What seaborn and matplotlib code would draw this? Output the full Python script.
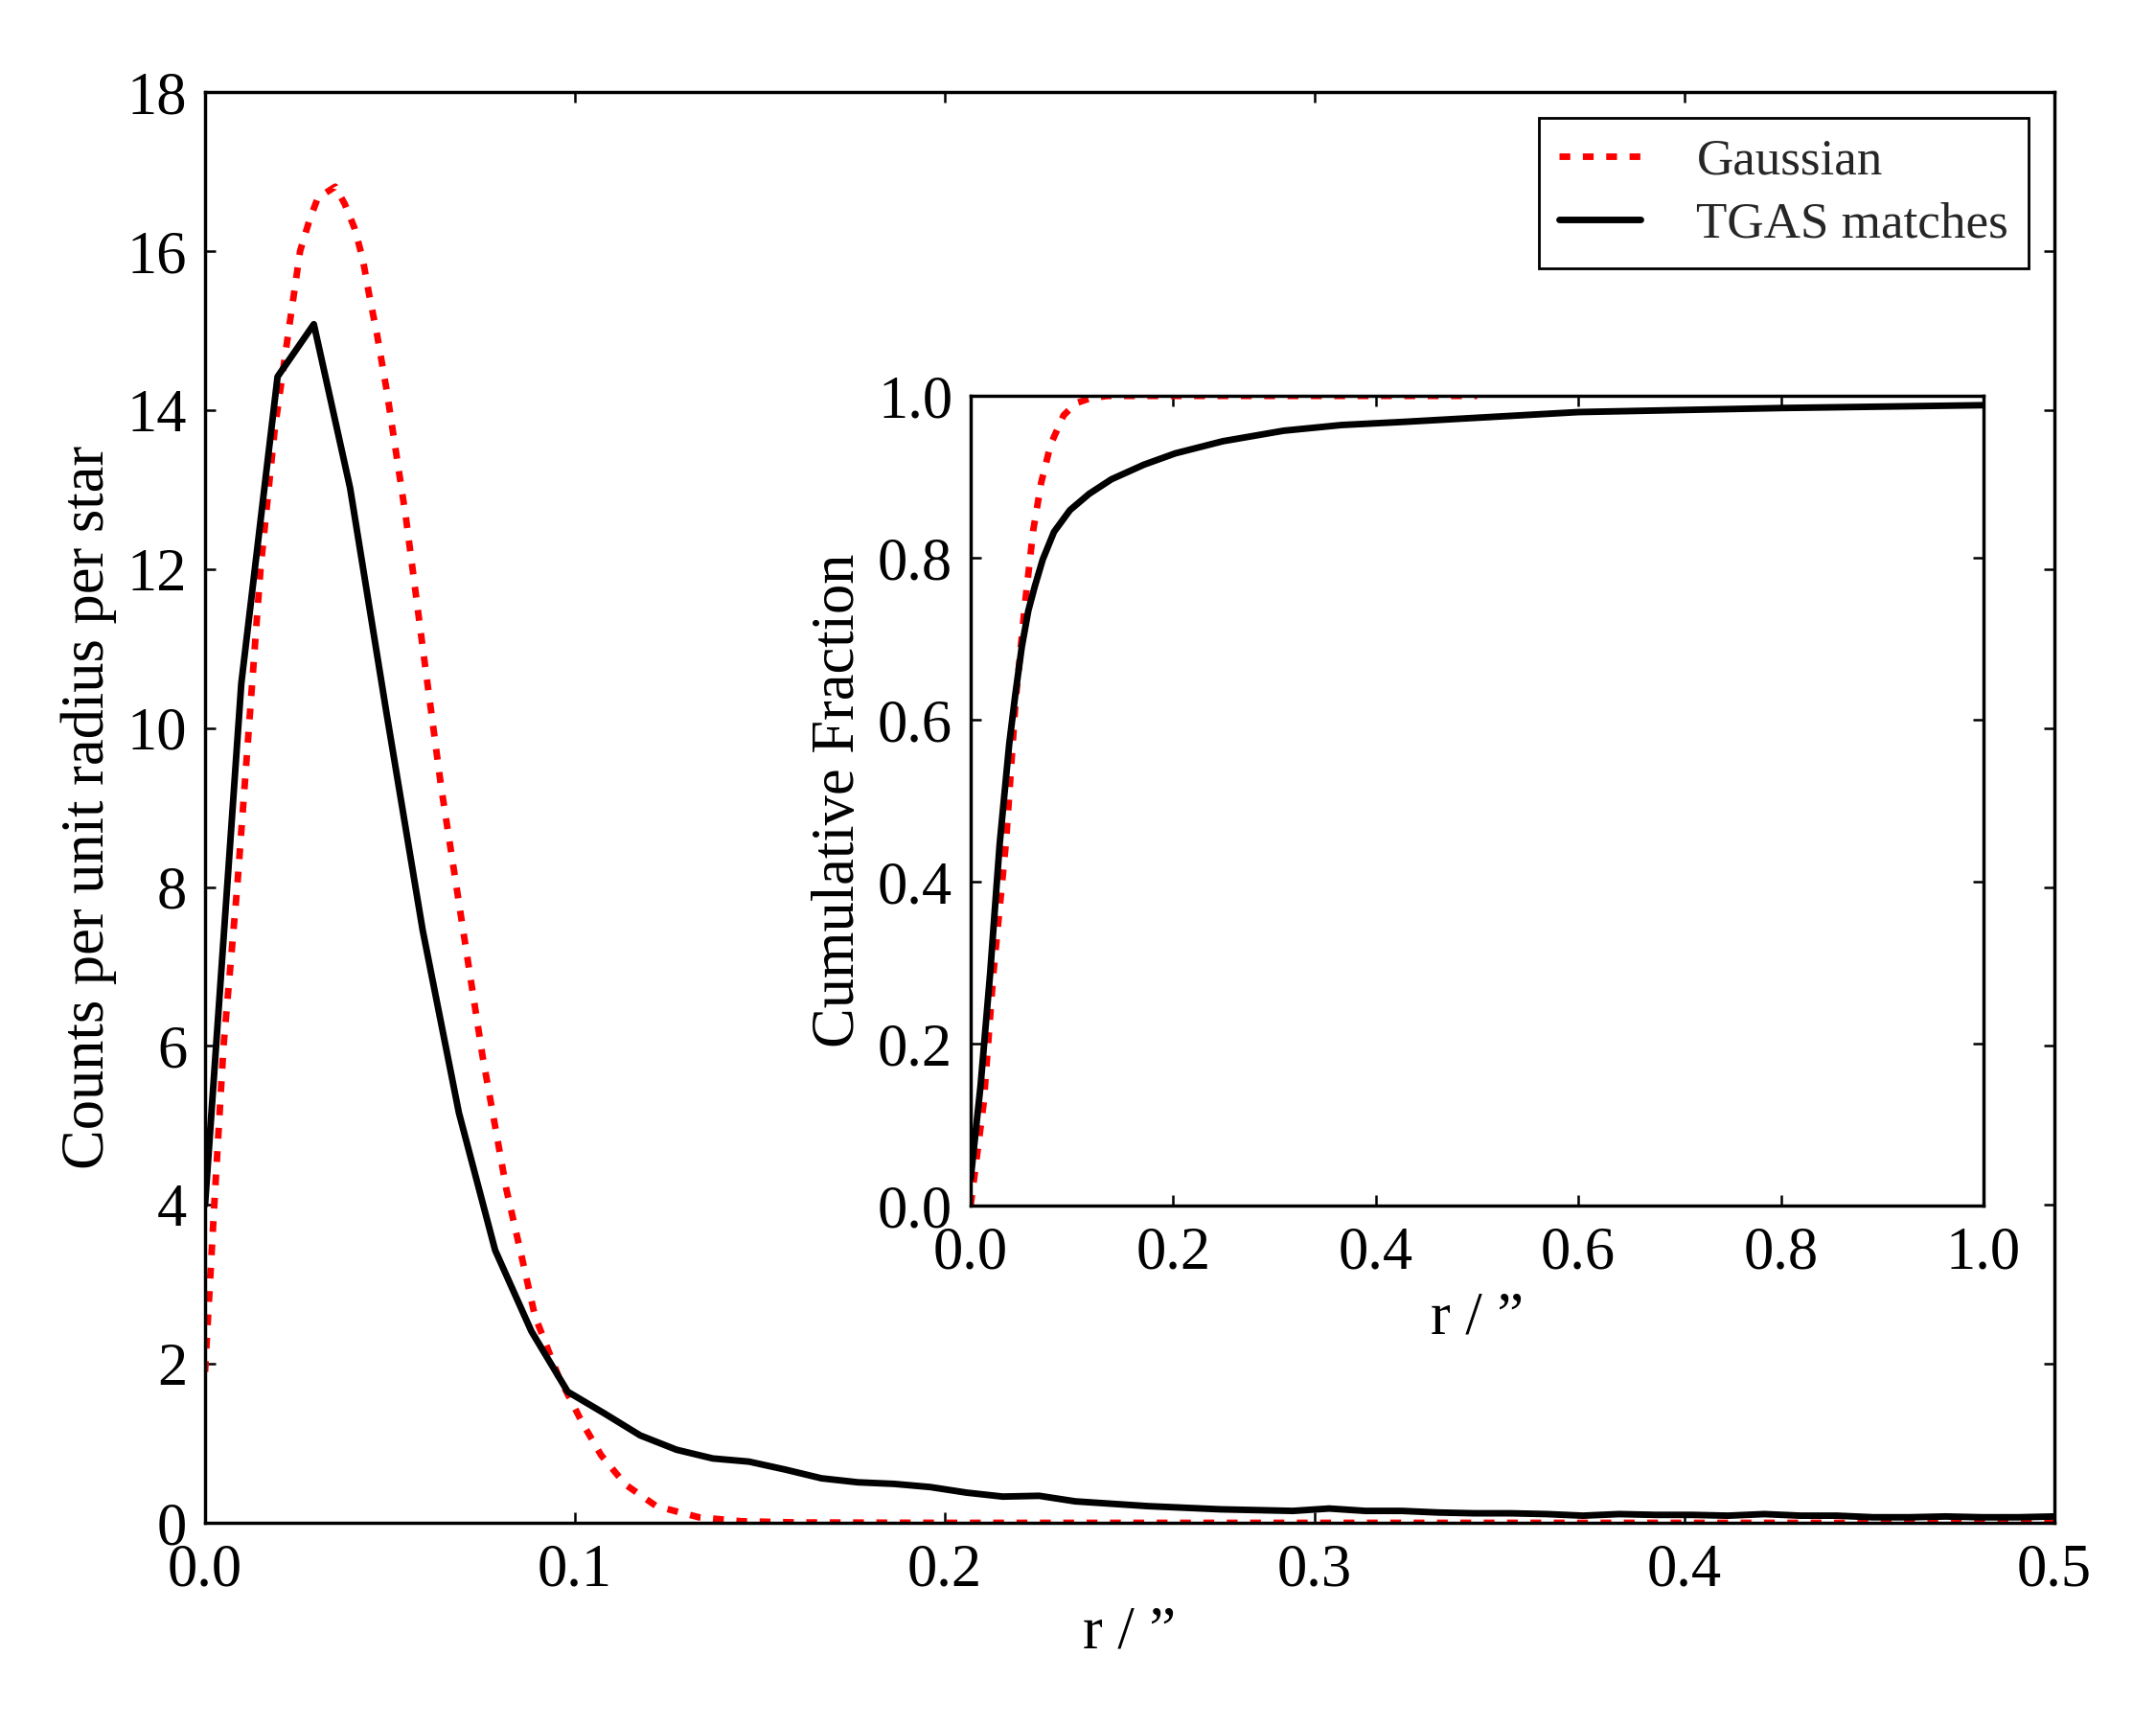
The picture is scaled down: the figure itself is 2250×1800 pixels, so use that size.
import numpy as np
import matplotlib
matplotlib.use("Agg")
import matplotlib.pyplot as plt
import seaborn as sns

# main panel: counts per unit radius (TGAS sampled on a regular radial grid)
r_tgas = np.linspace(0.0, 0.5, 52)
counts_tgas = [4.0, 10.56, 14.42, 15.08, 13.02, 10.2, 7.46, 5.16, 3.43, 2.41,
               1.65, 1.38, 1.10, 0.92, 0.81, 0.77, 0.67, 0.56, 0.51, 0.49,
               0.45, 0.38, 0.33, 0.34, 0.27, 0.24, 0.21, 0.19, 0.17, 0.16,
               0.15, 0.18, 0.15, 0.15, 0.13, 0.12, 0.12, 0.11, 0.09, 0.11,
               0.10, 0.10, 0.09, 0.11, 0.09, 0.09, 0.07, 0.07, 0.08, 0.07,
               0.07, 0.08]

r_gauss = [0.0, 0.0025, 0.005, 0.0087, 0.0128, 0.015, 0.0188, 0.0223, 0.0257,
           0.0283, 0.0305, 0.0352, 0.0378, 0.0404, 0.0426, 0.0443, 0.0465,
           0.0491, 0.0543, 0.059, 0.0638, 0.0694, 0.075, 0.0815, 0.0856,
           0.0892, 0.0955, 0.1021, 0.1071, 0.1137, 0.122, 0.1335, 0.145,
           0.16, 0.2, 0.5]
counts_gauss = [1.9, 4.0, 6.0, 8.0, 10.6, 12.0, 13.74, 14.9, 16.0,
                16.4, 16.67, 16.81, 16.59, 16.29, 15.91, 15.47, 14.95,
                14.25, 12.65, 10.96, 9.27, 7.57, 5.88, 4.19, 3.35,
                2.6, 1.85, 1.25, 0.85, 0.48, 0.21, 0.07, 0.02,
                0.005, 0.0, 0.0]

# inset: cumulative fractions
r_cum_tgas = [0.0, 0.0098, 0.0192, 0.0287, 0.0381, 0.044, 0.0505, 0.057,
              0.0634, 0.0712, 0.0823, 0.0981, 0.117, 0.139, 0.171, 0.202,
              0.249, 0.309, 0.366, 0.429, 0.6, 0.8, 1.0]
cum_tgas = [0.033, 0.148, 0.286, 0.447, 0.57, 0.63, 0.69, 0.735,
            0.765, 0.798, 0.832, 0.859, 0.879, 0.897, 0.915, 0.929,
            0.944, 0.957, 0.964, 0.968, 0.980, 0.985, 0.9885]

r_cum_gauss = [0.0, 0.013, 0.0224, 0.035, 0.0445, 0.054, 0.0618, 0.0697,
               0.079, 0.0918, 0.104, 0.118, 0.135, 0.5]
cum_gauss = [0.0, 0.128, 0.286, 0.45, 0.625, 0.747, 0.834, 0.893,
             0.94, 0.976, 0.991, 0.997, 1.0, 1.0]

sns.set_theme(style="ticks")
plt.rcParams["font.family"] = ["Liberation Serif", "DejaVu Serif"]
plt.rcParams.update({
    "lines.scale_dashes": False,
    "lines.dash_capstyle": "butt",
    "axes.linewidth": 1.1,
    "axes.edgecolor": "black",
    "xtick.direction": "in",
    "ytick.direction": "in",
    "xtick.top": True,
    "ytick.right": True,
    "xtick.major.size": 3.5,
    "ytick.major.size": 3.5,
    "xtick.major.width": 0.8,
    "ytick.major.width": 0.8,
    "xtick.major.pad": 7,
    "ytick.major.pad": 6,
    "xtick.color": "black",
    "ytick.color": "black",
    "xtick.labelsize": 20,
    "ytick.labelsize": 20,
    "axes.labelsize": 20,
    "axes.labelcolor": "black",
})

dash = (0, (3.6, 4.2))
lw = 2.2

fig = plt.figure(figsize=(10, 8), dpi=225)
ax = fig.add_axes([0.0951, 0.1172, 0.8578, 0.8294])

sns.lineplot(x=r_gauss, y=counts_gauss, ax=ax, color="red", lw=lw,
             linestyle=dash, estimator=None, label="Gaussian")
sns.lineplot(x=r_tgas, y=counts_tgas, ax=ax, color="black", lw=lw,
             estimator=None, label="TGAS matches")

ax.set_xlim(0, 0.5)
ax.set_ylim(0, 18)
ax.set_xticks(np.arange(0, 0.51, 0.1))
ax.set_xticklabels(["0.0", "0.1", "0.2", "0.3", "0.4", "0.5"])
ax.set_yticks(range(0, 19, 2))
ax.set_xlabel("r / \u201d", labelpad=2)
ax.set_ylabel("Counts per unit radius per star", labelpad=3.5)

leg = ax.legend(loc="upper right", fontsize=17, fancybox=False, framealpha=1,
                edgecolor="black", handlelength=1.6, handletextpad=1.1,
                borderaxespad=0.5, labelspacing=0.35, borderpad=0.4)
leg.get_frame().set_linewidth(0.9)

# inset axes
ins = fig.add_axes([0.4502, 0.3011, 0.4698, 0.4694])
sns.lineplot(x=r_cum_gauss, y=cum_gauss, ax=ins, color="red", lw=lw,
             linestyle=dash, estimator=None)
sns.lineplot(x=r_cum_tgas, y=cum_tgas, ax=ins, color="black", lw=lw,
             estimator=None)
ins.set_xlim(0, 1)
ins.set_ylim(0, 1)
ins.set_xticks(np.arange(0, 1.01, 0.2))
ins.set_yticks(np.arange(0, 1.01, 0.2))
ins.set_xticklabels(["0.0", "0.2", "0.4", "0.6", "0.8", "1.0"])
ins.set_yticklabels(["0.0", "0.2", "0.4", "0.6", "0.8", "1.0"])
ins.set_xlabel("r / \u201d", labelpad=3)
ins.set_ylabel("Cumulative Fraction", labelpad=3.7)

fig.savefig("out.png", dpi=225, facecolor="white")
